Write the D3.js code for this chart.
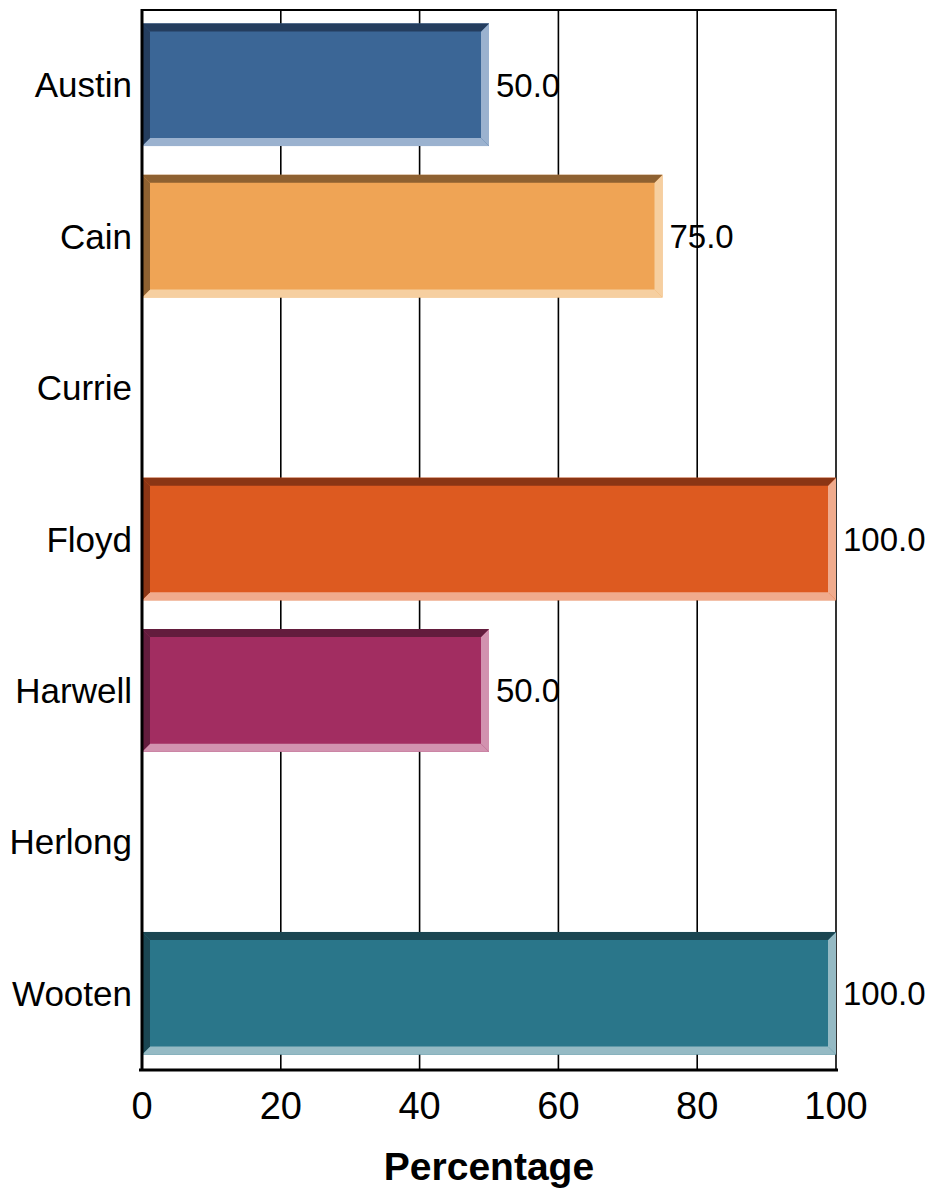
<!DOCTYPE html>
<html><head><meta charset="utf-8">
<script src="https://cdn.jsdelivr.net/npm/d3@7"></script>
<style>body{margin:0;background:#fff}svg{display:block}text{font-family:"Liberation Sans",Arial,sans-serif}</style>
</head><body><svg id="c" width="932" height="1190"></svg>
<script>
const categories = ["Austin","Cain","Currie","Floyd","Harwell","Herlong","Wooten"];
const values = [50, 75, 0, 100, 50, 0, 100];
const mainColors = ["#3B6696","#EFA455","#3B6696","#DD5A20","#A22D61","#3B6696","#2A768A"];
const darkColors = ["#243D5E","#8E6131","#243D5E","#8B3514","#631C3D","#243D5E","#1A4652"];
const lightColors = ["#9BB2CF","#F6CFA0","#9BB2CF","#F0AB8D","#D292AF","#9BB2CF","#95BAC4"];
const xTicks = [0,20,40,60,80,100];
const xTitle = "Percentage";

const svg = d3.select("#c");
const pL = 142, pR = 836, pT = 9, pB = 1069;
const x = d3.scaleLinear().domain([0,100]).range([pL,pR]);
const y = d3.scaleBand().domain(categories).range([pT,pB]).paddingInner(0.19).paddingOuter(0.095);

// gridlines
svg.append("g").selectAll("line").data(xTicks.slice(1)).join("line")
  .attr("x1",d=>x(d)).attr("x2",d=>x(d)).attr("y1",pT).attr("y2",pB)
  .attr("stroke","#000").attr("stroke-width",1.6);
// top border
svg.append("line").attr("x1",pL).attr("x2",pR).attr("y1",pT+1).attr("y2",pT+1).attr("stroke","#000").attr("stroke-width",2);

// bars
const b = 8;
const data = categories.map((c,i)=>({c,v:values[i],i})).filter(d=>d.v>0);
const g = svg.append("g").selectAll("g").data(data).join("g");
g.each(function(d){
  const s = d3.select(this);
  const x0 = x(0), x1 = x(d.v), y0 = y(d.c), y1 = y(d.c)+y.bandwidth();
  s.append("rect").attr("x",x0).attr("y",y0).attr("width",x1-x0).attr("height",y1-y0).attr("fill",mainColors[d.i]);
  const poly = (pts,fill)=>s.append("polygon").attr("points",pts.map(p=>p.join(",")).join(" ")).attr("fill",fill);
  poly([[x0,y1],[x1,y1],[x1-b,y1-b],[x0+b,y1-b]], lightColors[d.i]);
  poly([[x1,y0],[x1,y1],[x1-b,y1-b],[x1-b,y0+b]], lightColors[d.i]);
  poly([[x0,y0],[x1,y0],[x1-b,y0+b],[x0+b,y0+b]], darkColors[d.i]);
  poly([[x0,y0],[x0+b,y0+b],[x0+b,y1-b],[x0,y1]], darkColors[d.i]);
  s.append("text").attr("x",x1+7).attr("y",y0+(y1-y0)/2).attr("dy","0.36em")
    .attr("font-size",33).attr("fill","#000").text(d.v.toFixed(1));
});

// axes lines
svg.append("line").attr("x1",pL).attr("x2",pL).attr("y1",pT).attr("y2",pB+2).attr("stroke","#000").attr("stroke-width",3);
svg.append("line").attr("x1",pL-3).attr("x2",pR+2).attr("y1",pB+1).attr("y2",pB+1).attr("stroke","#000").attr("stroke-width",3);

// category labels
svg.append("g").selectAll("text").data(categories).join("text")
  .attr("x",132).attr("y",d=>y(d)+y.bandwidth()/2).attr("dy","0.36em")
  .attr("text-anchor","end").attr("font-size",35).attr("fill","#000").text(d=>d);

// tick labels
svg.append("g").selectAll("text").data(xTicks).join("text")
  .attr("x",d=>x(d)).attr("y",1119).attr("text-anchor","middle")
  .attr("font-size",38).attr("fill","#000").text(d=>d);

svg.append("text").attr("x",(pL+pR)/2).attr("y",1180).attr("text-anchor","middle")
  .attr("font-size",39).attr("font-weight","bold").attr("fill","#000").text(xTitle);
</script></body></html>
